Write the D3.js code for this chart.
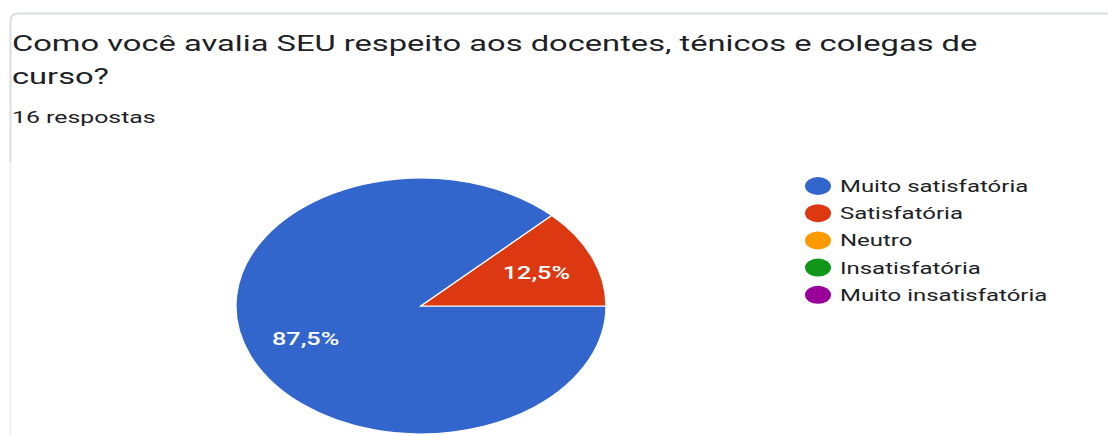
<!DOCTYPE html>
<html>
<head>
<meta charset="utf-8">
<script src="https://cdn.jsdelivr.net/npm/d3@7"></script>
<style>
  html, body { margin: 0; padding: 0; background: #fff; }
  svg { display: block; font-family: Roboto, "Noto Sans", Arial, sans-serif; }
</style>
</head>
<body>
<svg id="chart" width="1108" height="435"></svg>
<script>
// Survey answers
const categories = ["Muito satisfatória", "Satisfatória", "Neutro", "Insatisfatória", "Muito insatisfatória"];
const counts = [14, 2, 0, 0, 0];
const colors = ["#3366cc", "#dc3912", "#ff9900", "#109618", "#990099"];
const titleLines = ["Como você avalia SEU respeito aos docentes, ténicos e colegas de", "curso?"];
const totalLabel = "16 respostas";

const W = 1108, H = 435;
const sx = 1.445;               // horizontal stretch of the whole card
const svg = d3.select("#chart");

// Card outline (top edge + left edge with rounded corner)
svg.append("path")
  .attr("d", `M ${W} 13.5 L 18 13.5 Q 10.5 13.5 10.5 21 L 10.5 162`)
  .attr("fill", "none").attr("stroke", "#dadce0").attr("stroke-width", 2);
svg.append("line")
  .attr("x1", 10.5).attr("x2", 10.5).attr("y1", 162).attr("y2", H)
  .attr("stroke", "#f1f1f3").attr("stroke-width", 2);

const g = svg.append("g").attr("transform", `scale(${sx},1)`);

// Title
g.selectAll("text.title").data(titleLines).join("text")
  .attr("class", "title")
  .attr("x", 12 / sx)
  .attr("y", (d, i) => 51 + i * 33)
  .attr("font-size", 22.6)
  .attr("fill", "#202124")
  .text(d => d);

g.append("text")
  .attr("x", 12 / sx).attr("y", 123)
  .attr("font-size", 17.2)
  .attr("fill", "#202124")
  .text(totalLabel);

// Pie
const R = 128;
const cx = 421 / sx, cy = 306;
const data = categories.map((c, i) => ({ name: c, value: counts[i], color: colors[i] }));
const pie = d3.pie().value(d => d.value).sort(null)
  .startAngle(Math.PI / 2).endAngle(Math.PI / 2 + 2 * Math.PI);
const arcs = pie(data).filter(d => d.data.value > 0);
const arc = d3.arc().innerRadius(0).outerRadius(R);
const labelArc = d3.arc().innerRadius(R * 0.675).outerRadius(R * 0.675);
const total = d3.sum(counts);

// Slices drawn as a circle then widened with the card stretch
const pieG = svg.append("g").attr("transform", `translate(${cx * sx},${cy}) scale(${sx},1)`);
pieG.selectAll("path").data(arcs).join("path")
  .attr("d", arc)
  .attr("fill", d => d.data.color)
  .attr("stroke", "#fff").attr("stroke-width", 1.2)
  .attr("vector-effect", "non-scaling-stroke");

pieG.selectAll("text").data(arcs).join("text")
  .attr("transform", d => `translate(${labelArc.centroid(d)})`)
  .attr("text-anchor", "middle")
  .attr("dy", "0.36em")
  .attr("font-size", 17.5)
  .attr("font-weight", 500)
  .attr("fill", "#fff")
  .text(d => d3.format(".1f")(d.data.value / total * 100).replace(".", ",") + "%");

// Legend
const legend = g.append("g").attr("transform", `translate(${818 / sx},186)`);
const item = legend.selectAll("g").data(data).join("g")
  .attr("transform", (d, i) => `translate(0,${i * 27.2})`);
item.append("circle").attr("r", 9).attr("fill", d => d.color);
item.append("text")
  .attr("x", 22 / sx)
  .attr("dy", "0.36em")
  .attr("font-size", 16.6)
  .attr("fill", "#202124")
  .text(d => d.name);
</script>
</body>
</html>
